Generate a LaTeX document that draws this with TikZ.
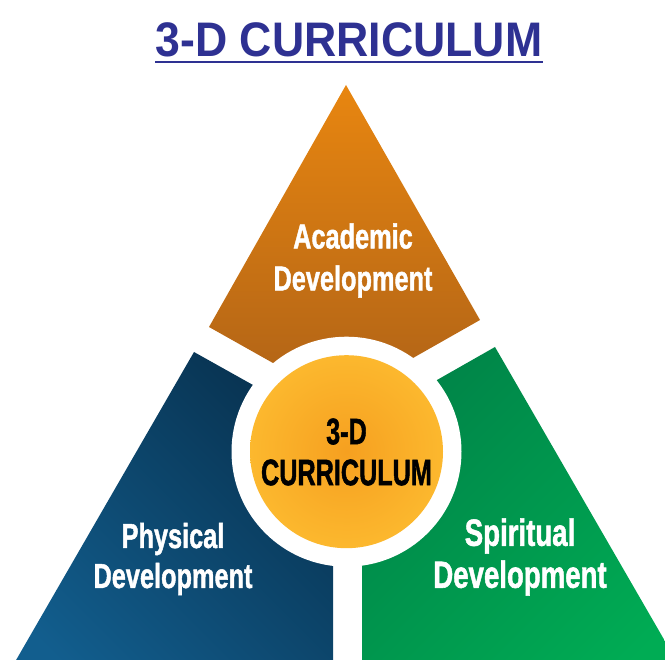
\documentclass[tikz,border=0pt]{standalone}
\usepackage{fontspec}
\usepackage{graphicx}
\setmainfont{Liberation Sans}
\newfontfamily\heavyfont[BoldFeatures={FakeBold=1.6}]{Liberation Sans}
\definecolor{titleblue}{RGB}{46,49,146}
\definecolor{orTop}{RGB}{232,134,16}
\definecolor{orBot}{RGB}{165,92,24}
\definecolor{blDark}{RGB}{8,50,80}
\definecolor{blLight}{RGB}{18,94,142}
\definecolor{grDark}{RGB}{0,132,72}
\definecolor{grLight}{RGB}{0,172,84}
\definecolor{coreIn}{RGB}{246,160,32}
\definecolor{coreOut}{RGB}{252,184,46}
\newcommand{\cnd}[2][0.767]{\scalebox{#1}[1.05]{#2}}
\tikzset{
  seglabel/.style={text=white, align=center, inner sep=0pt},
  corelabel/.style={circle, minimum size=193pt, inner sep=0pt,
    inner color=coreIn, outer color=coreOut},
}
\begin{document}
\begin{tikzpicture}[x=1pt,y=-1pt]
\useasboundingbox (0,0) rectangle (665,660);
\clip (0,0) rectangle (665,660);
\coordinate (c) at (346.5,451.7);
% top segment
\shade[top color=orTop, bottom color=orBot]
  (346,85) -- (480,320) -- (413,358) -- (c) -- (273,363) -- (209,327) -- cycle;
% left segment
\shade[top color=blDark, bottom color=blLight, shading angle=-45]
  (194,352) -- (253,385) -- (c) -- (333,568) -- (333,700) -- (-7,700) -- cycle;
% right segment
\shade[top color=grDark, bottom color=grLight, shading angle=45]
  (495,347) -- (437,380) -- (c) -- (362,566) -- (362,700) -- (699,700) -- cycle;
% white ring
\fill[white] (c) circle (115pt);
% core
\node[corelabel] (core) at (c) {};
\node[inner sep=0pt, align=center, text=black, font=\fontsize{35}{41}\selectfont\heavyfont\bfseries]
  (coretext) at (346.5,452) {\cnd[0.72]{3-D}\\\cnd[0.72]{CURRICULUM}};
% labels
\node[seglabel, font=\fontsize{33}{42}\selectfont\heavyfont\bfseries] (academic) at (353,260.5)
  {\cnd{Academic}\\\cnd{Development}};
\node[seglabel, font=\fontsize{33}{40}\selectfont\heavyfont\bfseries] (physical) at (173,559)
  {\cnd{Physical}\\\cnd{Development}};
\node[seglabel, font=\fontsize{36}{42}\selectfont\heavyfont\bfseries] (spiritual) at (520,557)
  {\cnd{Spiritual}\\\cnd{Development}};
% title
\node[anchor=base, inner sep=0pt, text=titleblue, font=\fontsize{48.5}{50}\selectfont\bfseries]
  (title) at (349,57) {\scalebox{0.92}[1]{3-D CURRICULUM}};
\draw[titleblue, line width=2.5pt] ([yshift=-5pt]title.base west) -- ([yshift=-5pt]title.base east);
\end{tikzpicture}
\end{document}
